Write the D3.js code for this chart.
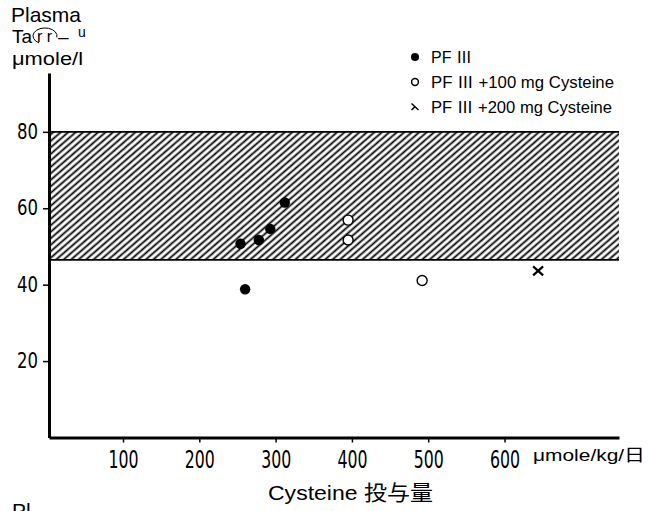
<!DOCTYPE html>
<html>
<head>
<meta charset="utf-8">
<script src="https://cdn.jsdelivr.net/npm/d3@7"></script>
<style>
  body { margin: 0; background: #fff; }
  svg { display: block; }
  .tick line { stroke: #000; stroke-width: 1.5; }
  .domain { stroke: #000; stroke-width: 3; }
</style>
</head>
<body>
<svg width="649" height="511"></svg>
<script>
const pf3X = [254, 278, 293, 312, 260]
const pf3Y = [50.7, 51.7, 54.6, 61.5, 38.8]
const pf100X = [395, 395, 492]
const pf100Y = [56.9, 51.7, 41.1]
const pf200X = [644]
const pf200Y = [43.6]
const bandRange = [46.5, 80]
const xTicks = [100, 200, 300, 400, 500, 600]
const yTicks = [20, 40, 60, 80]
const legendLabels = ['PF Ⅲ', 'PF Ⅲ +100 mg Cysteine', 'PF Ⅲ +200 mg Cysteine']

let field = d3.select('svg')
let narrow = '"Liberation Sans Narrow", "DejaVu Sans Condensed", "Liberation Sans", sans-serif'
let sans = '"Liberation Sans", Arial, "Noto Sans CJK JP", sans-serif'

let horScale = d3.scaleLinear().domain([3, 750]).range([49, 619])
let vertScale = d3.scaleLinear().domain([0, 95.4]).range([437.5, 73])

let defs = field.append('defs')
defs.append('pattern')
  .attr('id', 'hatch')
  .attr('patternUnits', 'userSpaceOnUse')
  .attr('width', 10)
  .attr('height', 4.9)
  .attr('patternTransform', 'rotate(-41)')
  .append('line')
  .attr('x1', 0).attr('x2', 10)
  .attr('y1', 2.45).attr('y2', 2.45)
  .attr('stroke', '#000')
  .attr('stroke-width', 1.8)

// normal range band
field.append('rect')
  .attr('x', horScale(3))
  .attr('y', vertScale(bandRange[1]))
  .attr('width', horScale(750) - horScale(3))
  .attr('height', vertScale(bandRange[0]) - vertScale(bandRange[1]))
  .attr('fill', 'url(#hatch)')

bandRange.forEach(v => {
  field.append('line')
    .attr('x1', horScale(3)).attr('x2', horScale(750))
    .attr('y1', vertScale(v)).attr('y2', vertScale(v))
    .attr('stroke', '#000')
    .attr('stroke-width', 1.8)
})

let xAxis = d3.axisBottom(horScale).tickValues(xTicks).tickSize(5).tickSizeOuter(0).tickPadding(8)
let yAxis = d3.axisLeft(vertScale).tickValues(yTicks).tickSize(6).tickSizeOuter(0).tickPadding(5)

field.append('g')
  .attr('id', 'x-axis')
  .attr('transform', `translate(0, ${vertScale(0)})`)
  .call(xAxis)
  .call(g => g.selectAll('text')
    .attr('fill', '#000')
    .style('font-family', narrow)
    .style('font-size', '24px')
    .attr('textLength', 30)
    .attr('lengthAdjust', 'spacingAndGlyphs'))

field.append('g')
  .attr('id', 'y-axis')
  .attr('transform', `translate(${horScale(3)}, 0)`)
  .call(yAxis)
  .call(g => g.selectAll('text')
    .attr('fill', '#000')
    .style('font-family', narrow)
    .style('font-size', '21px')
    .attr('textLength', 21)
    .attr('lengthAdjust', 'spacingAndGlyphs'))

let pf3 = d3.zip(pf3X, pf3Y)
let pf100 = d3.zip(pf100X, pf100Y)
let pf200 = d3.zip(pf200X, pf200Y)

field.append('g').selectAll('circle')
  .data(pf3)
  .enter()
  .append('circle')
  .attr('cx', d => horScale(d[0]))
  .attr('cy', d => vertScale(d[1]))
  .attr('r', 5.2)
  .attr('fill', '#000')

field.append('g').selectAll('circle')
  .data(pf100)
  .enter()
  .append('circle')
  .attr('cx', d => horScale(d[0]))
  .attr('cy', d => vertScale(d[1]))
  .attr('r', 5)
  .attr('fill', '#fff')
  .attr('stroke', '#000')
  .attr('stroke-width', 1.4)

field.append('g').selectAll('path')
  .data(pf200)
  .enter()
  .append('path')
  .attr('transform', d => `translate(${horScale(d[0])}, ${vertScale(d[1])})`)
  .attr('d', 'M-5,-4.5L5,4.5M5,-4.5L-5,4.5')
  .attr('stroke', '#000')
  .attr('stroke-width', 2.2)

// legend
let legend = field.append('g').attr('transform', 'translate(415, 57)')
let rows = legend.selectAll('g')
  .data(legendLabels)
  .enter()
  .append('g')
  .attr('transform', (d, i) => `translate(0, ${i * 25})`)

rows.filter((d, i) => i === 0).append('circle').attr('r', 4).attr('fill', '#000')
rows.filter((d, i) => i === 1).append('circle').attr('r', 3.4).attr('fill', 'none')
  .attr('stroke', '#000').attr('stroke-width', 1.5)
rows.filter((d, i) => i === 2).append('path')
  .attr('d', 'M-3.5,-3.5L3.5,3M0,-0.3L-3.5,3')
  .attr('fill', 'none').attr('stroke', '#000').attr('stroke-width', 1.5)

rows.append('text')
  .attr('x', 16)
  .attr('y', 5.5)
  .attr('textLength', (d, i) => [41, 183, 181][i])
  .attr('lengthAdjust', 'spacingAndGlyphs')
  .style('font-family', sans)
  .style('font-size', '16px')
  .text(d => d)

// y label
field.append('text').attr('x', 11).attr('y', 22)
  .style('font-family', sans).style('font-size', '21px').text('Plasma')
field.append('text').attr('x', 12).attr('y', 43)
  .style('font-family', sans).style('font-size', '19px').text('Ta')
field.append('text').attr('x', 37).attr('y', 42)
  .attr('textLength', 15).attr('lengthAdjust', 'spacing')
  .style('font-family', sans).style('font-size', '16px').text('rr')
field.append('path')
  .attr('d', 'M39,42.9 A12,8 0 1 1 56.8,37.4')
  .attr('fill', 'none').attr('stroke', '#000').attr('stroke-width', 1)
field.append('text').attr('x', 58).attr('y', 43)
  .style('font-family', sans).style('font-size', '19px').text('–')
field.append('text').attr('x', 78).attr('y', 37)
  .style('font-family', sans).style('font-size', '14px').text('u')
field.append('text').attr('x', 12).attr('y', 65)
  .attr('textLength', 71).attr('lengthAdjust', 'spacingAndGlyphs')
  .style('font-family', sans).style('font-size', '18px').text('μmole/l')

// x label
field.append('text').attr('x', 533).attr('y', 461)
  .attr('textLength', 112).attr('lengthAdjust', 'spacingAndGlyphs')
  .style('font-family', sans).style('font-size', '17px').text('μmole/kg/日')
field.append('text').attr('x', 268).attr('y', 500)
  .attr('textLength', 165).attr('lengthAdjust', 'spacingAndGlyphs')
  .style('font-family', sans).style('font-size', '21px').text('Cysteine 投与量')

field.append('text').attr('x', 12).attr('y', 518)
  .style('font-family', sans).style('font-size', '21px').text('Pl')
</script>
</body>
</html>
